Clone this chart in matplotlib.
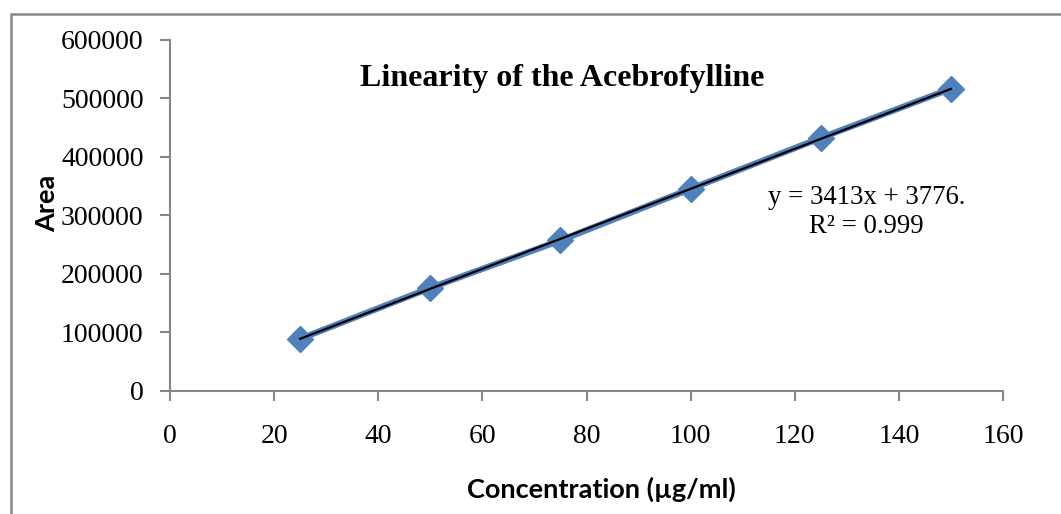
import matplotlib
matplotlib.use("Agg")
import matplotlib.pyplot as plt
import matplotlib.ticker as ticker
from matplotlib.patches import Rectangle
import numpy as np

# concentración vs área
concentration = [25, 50, 75, 100, 125, 150]
area = [89000, 176000, 257000, 345000, 432000, 516000]
slope = 3413
intercept = 3776
r2_text = "R² = 0.999"

W, H = 1061, 514
fig = plt.figure(figsize=(W / 100, H / 100), dpi=100)
ax = fig.add_axes([170 / W, 1 - 391 / H, (1003 - 170) / W, (391 - 39.5) / H])

# marco del gráfico
fig.patches.append(Rectangle((11 / W, -0.1), 1.2, 1 - 14 / H + 0.1,
                             transform=fig.transFigure, fill=False,
                             edgecolor="#868686", lw=1.8))

serif = "Liberation Serif"
blue = "#4F81BD"

ax.plot(concentration, area, color=blue, lw=4.5, marker="D", markersize=13,
        markerfacecolor=blue, markeredgecolor=blue, zorder=2)
fit_x = np.array([concentration[0], concentration[-1]])
ax.plot(fit_x, slope * fit_x + intercept, color="black", lw=1.6, zorder=3)

ax.set_xlim(0, 160)
ax.set_ylim(0, 600000)
ax.set_xticks(np.arange(0, 161, 20))
ax.set_yticks(np.arange(0, 600001, 100000))
ax.yaxis.set_major_formatter(ticker.FuncFormatter(lambda v, _: f"{int(v)}"))

for s in ["top", "right"]:
    ax.spines[s].set_visible(False)
for s in ["left", "bottom"]:
    ax.spines[s].set_color("#868686")
    ax.spines[s].set_linewidth(1.5)
ax.tick_params(direction="out", length=7, width=1.5, color="#868686",
               labelsize=20, pad=12)
ax.tick_params(axis="x", pad=17)
for lbl in ax.get_xticklabels() + ax.get_yticklabels():
    lbl.set_fontfamily(serif)

ax.text(0.471, 0.888, "Linearity of the Acebrofylline", transform=ax.transAxes,
        ha="center", va="center", fontsize=23, fontweight="bold", family=serif)
ax.text(0.836, 0.51, f"y = {slope}x + {intercept}.\n{r2_text}",
        transform=ax.transAxes, ha="center", va="center", fontsize=19.3,
        family=serif, linespacing=1.2)

fig.text((466 + 737) / 2 / W, 1 - 489 / H, "Concentration (µg/ml)",
         ha="center", va="center", fontsize=19.5, fontweight="bold", family="Lato")
fig.text(47 / W, 1 - 203 / H, "Area", rotation=90, ha="center", va="center",
         fontsize=19.5, fontweight="bold", family="Lato")

fig.savefig("out.png", dpi=100)
